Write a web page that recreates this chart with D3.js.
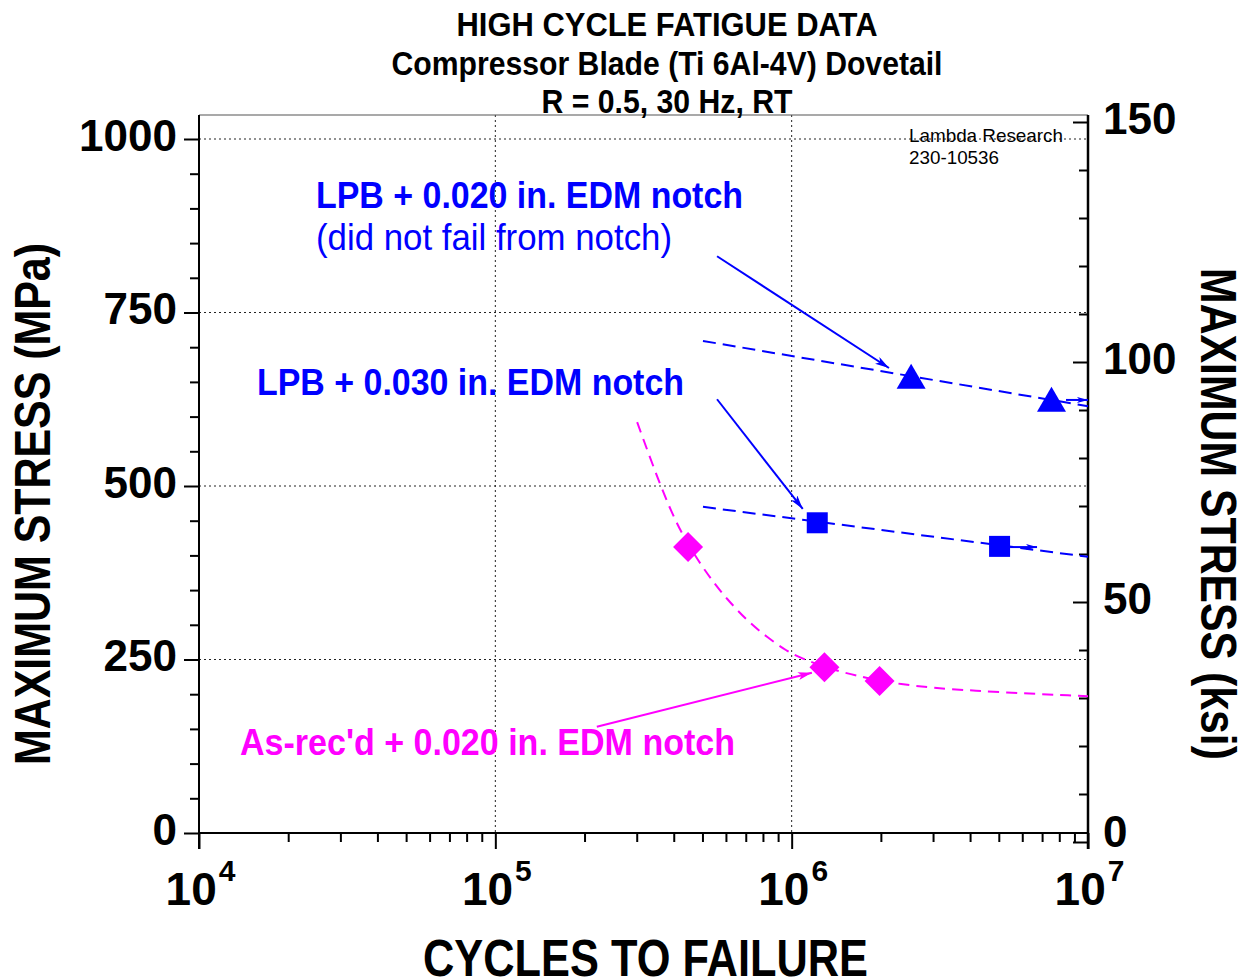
<!DOCTYPE html>
<html><head><meta charset="utf-8">
<script src="https://cdn.jsdelivr.net/npm/d3@7"></script>
<style>body{margin:0;background:#fff}svg{display:block}text{font-family:"Liberation Sans",Arial,sans-serif}</style>
</head><body><svg id="c" width="1247" height="978"></svg>
<script>
// ---- data ----
const decadeTicks=[1e4,1e5,1e6,1e7];
const decadeExp=["4","5","6","7"];
const mpaTicks=[0,250,500,750,1000];
const ksiTicks=[0,50,100,150];
const lpb20Cycles=[2.53e6,7.53e6], lpb20Stress=[658,625];
const lpb30Cycles=[1.22e6,5.03e6], lpb30Stress=[447,413];
const asrecCycles=[4.47e5,1.29e6,1.98e6], asrecStress=[412,239,219];
const lpb20FitCycles=[5.02e5,1e7], lpb20FitStress=[709,615];
const lpb30FitCycles=[5.02e5,1e7], lpb30FitStress=[470,398];
const asrecFitCycles=[3.01e5,3.54e5,4.2e5,5.3e5,6.05e5,7.07e5,8.26e5,9.64e5,1.07e6,1.46e6,2.32e6,3.91e6,1e7];
const asrecFitStress=[592,509,432,367,337,306,282,262,252,231,213,205,197];
// run-out arrows (from cycles, to cycles, stress)
const runoutFrom=[8.43e6,5.46e6], runoutTo=[1e7,6.73e6], runoutStress=[624,412];
// annotation arrows [c0,s0,c1,s1]
const noteArrowBlue1=[5.6e5,831,2.13e6,670];
const noteArrowBlue2=[5.6e5,625,1.09e6,467];
const noteArrowMag=[2.2e5,153,1.17e6,231];

const BLUE="#0000ff", MAG="#ff00ff";
const svg=d3.select("#c");
svg.append("rect").attr("width",1247).attr("height",978).attr("fill","#fff");

const L=199,R=1088,T=115,B=833;
const x=d3.scaleLog().domain([1e4,1e7]).range([L,R]);
const yL=d3.scaleLinear().domain([0,1000]).range([B,139]);
const yR=d3.scaleLinear().domain([0,150]).range([842,122]);

const defs=svg.append("defs");
function mk(id,col,len,wid){
  defs.append("marker").attr("id",id).attr("markerUnits","userSpaceOnUse")
   .attr("markerWidth",len+2).attr("markerHeight",wid+2).attr("refX",len).attr("refY",wid/2)
   .attr("orient","auto").append("path")
   .attr("d",`M0,0L${len},${wid/2}L0,${wid}L${len*0.25},${wid/2}Z`).attr("fill",col);
}
mk("ahB",BLUE,14,8); mk("ahM",MAG,14,8); mk("ahR",BLUE,11,6);

// grid
const grid=svg.append("g").attr("stroke","#222").attr("stroke-width",1).attr("stroke-dasharray","2,3");
grid.selectAll(".h").data(mpaTicks.filter(d=>d>0)).join("line")
  .attr("x1",L).attr("x2",R).attr("y1",d=>yL(d)).attr("y2",d=>yL(d));
grid.selectAll(".v").data([1e5,1e6]).join("line")
  .attr("x1",d=>x(d)).attr("x2",d=>x(d)).attr("y1",T).attr("y2",B);

// frame top
svg.append("line").attr("x1",L).attr("x2",R).attr("y1",T).attr("y2",T).attr("stroke","#555").attr("stroke-width",1.2);

// left axis
const minorMpa=d3.range(0,1001,50).filter(d=>d%250!==0);
const gL=svg.append("g").attr("transform",`translate(${L},0)`);
gL.call(d3.axisLeft(yL).tickValues(minorMpa).tickSize(9).tickFormat("").tickSizeOuter(0));
gL.call(g=>g.select(".domain").remove());
const gL2=svg.append("g").attr("transform",`translate(${L},0)`);
gL2.call(d3.axisLeft(yL).tickValues(mpaTicks).tickSize(15).tickPadding(7).tickSizeOuter(0).tickFormat(d3.format("d")));
gL2.select(".domain").remove();
gL2.selectAll("text").attr("dy","0.25em").attr("font-size",44).attr("font-weight","bold").attr("font-family","Liberation Sans, Arial, sans-serif").attr("fill","#000");
[gL,gL2].forEach(g=>g.selectAll("line").attr("stroke","#000").attr("stroke-width",2));
svg.append("line").attr("x1",L).attr("x2",L).attr("y1",T).attr("y2",B+16).attr("stroke","#000").attr("stroke-width",2);

// bottom axis
const minorX=[];
[1e4,1e5,1e6].forEach(d=>{for(let k=2;k<=9;k++)minorX.push(d*k);});
const gB=svg.append("g").attr("transform",`translate(0,${B})`);
gB.call(d3.axisBottom(x).tickValues(minorX).tickSize(9).tickFormat("").tickSizeOuter(0));
gB.select(".domain").remove();
const gB2=svg.append("g").attr("transform",`translate(0,${B})`);
gB2.call(d3.axisBottom(x).tickValues(decadeTicks).tickSize(16).tickFormat("").tickSizeOuter(0));
gB2.select(".domain").remove();
[gB,gB2].forEach(g=>g.selectAll("line").attr("stroke","#000").attr("stroke-width",2));
gB2.selectAll(".tick").each(function(d,i){
  const t=d3.select(this).append("text").attr("y",72).attr("x",1).attr("text-anchor","middle")
    .attr("fill","#000").attr("font-weight","bold").attr("font-family","Liberation Sans, Arial, sans-serif");
  t.append("tspan").attr("font-size",46).text("10");
  t.append("tspan").attr("font-size",30).attr("dy",-24).attr("dx",2).text(decadeExp[i]);
});
svg.append("line").attr("x1",L).attr("x2",R).attr("y1",B).attr("y2",B).attr("stroke","#000").attr("stroke-width",2);

// right axis
const minorKsi=d3.range(0,151,10).filter(d=>d%50!==0);
const gR=svg.append("g").attr("transform",`translate(${R},0)`);
gR.call(d3.axisRight(yR).tickValues(minorKsi).tickSize(-9).tickFormat("").tickSizeOuter(0));
gR.select(".domain").remove();
const gR2=svg.append("g").attr("transform",`translate(${R},0)`);
gR2.call(d3.axisRight(yR).tickValues(ksiTicks).tickSize(-15).tickPadding(15).tickSizeOuter(0).tickFormat(d3.format("d")));
gR2.select(".domain").remove();
gR2.selectAll("text").attr("dy",d=>d===0?"0.1em":"0.25em").attr("font-size",44).attr("font-weight","bold").attr("font-family","Liberation Sans, Arial, sans-serif").attr("fill","#000");
[gR,gR2].forEach(g=>g.selectAll("line").attr("stroke","#000").attr("stroke-width",2));
svg.append("line").attr("x1",R).attr("x2",R).attr("y1",T).attr("y2",849).attr("stroke","#000").attr("stroke-width",2.5);

// fit lines
const line=d3.line().x(d=>x(d[0])).y(d=>yL(d[1]));
const zip=(a,b)=>a.map((v,i)=>[v,b[i]]);
svg.append("path").datum(zip(lpb20FitCycles,lpb20FitStress)).attr("d",line)
  .attr("fill","none").attr("stroke",BLUE).attr("stroke-width",2).attr("stroke-dasharray","13,7");
svg.append("path").datum(zip(lpb30FitCycles,lpb30FitStress)).attr("d",line)
  .attr("fill","none").attr("stroke",BLUE).attr("stroke-width",2).attr("stroke-dasharray","13,7");
svg.append("path").datum(zip(asrecFitCycles,asrecFitStress)).attr("d",line.curve(d3.curveBasis))
  .attr("fill","none").attr("stroke",MAG).attr("stroke-width",2).attr("stroke-dasharray","11,7");

// annotation arrows
function arrow(a,col,m){
  svg.append("line").attr("x1",x(a[0])).attr("y1",yL(a[1])).attr("x2",x(a[2])).attr("y2",yL(a[3]))
    .attr("stroke",col).attr("stroke-width",2).attr("marker-end",`url(#${m})`);
}
arrow(noteArrowBlue1,BLUE,"ahB");
arrow(noteArrowBlue2,BLUE,"ahB");
arrow(noteArrowMag,MAG,"ahM");
runoutFrom.forEach((c,i)=>{
  svg.append("line").attr("x1",x(c)).attr("y1",yL(runoutStress[i])).attr("x2",x(runoutTo[i])).attr("y2",yL(runoutStress[i]))
    .attr("stroke",BLUE).attr("stroke-width",2).attr("marker-end","url(#ahR)");
});

// markers
svg.append("g").selectAll("path").data(zip(lpb20Cycles,lpb20Stress)).join("path")
  .attr("transform",d=>`translate(${x(d[0])},${yL(d[1])})`)
  .attr("d","M0,-12.5L14.5,12.5L-14.5,12.5Z").attr("fill",BLUE);
svg.append("g").selectAll("rect").data(zip(lpb30Cycles,lpb30Stress)).join("rect")
  .attr("x",d=>x(d[0])-10.5).attr("y",d=>yL(d[1])-10.5).attr("width",21).attr("height",21).attr("fill",BLUE);
svg.append("g").selectAll("path").data(zip(asrecCycles,asrecStress)).join("path")
  .attr("transform",d=>`translate(${x(d[0])},${yL(d[1])})`)
  .attr("d","M0,-15L15,0L0,15L-15,0Z").attr("fill",MAG);

// texts
function txt(s,o){
  const t=svg.append("text").text(s).attr("x",o.x).attr("y",o.y).attr("font-size",o.fs)
    .attr("font-weight",o.fw||"bold").attr("fill",o.c||"#000").attr("text-anchor",o.a||"start");
  if(o.w) t.attr("textLength",o.w).attr("lengthAdjust","spacingAndGlyphs");
  if(o.tr) t.attr("transform",o.tr).attr("x",0).attr("y",0);
  return t;
}
txt("HIGH CYCLE FATIGUE DATA",{x:667,y:36,fs:33,a:"middle",w:421});
txt("Compressor Blade (Ti 6Al-4V) Dovetail",{x:667,y:75,fs:33,a:"middle",w:551});
txt("R = 0.5, 30 Hz, RT",{x:667,y:113,fs:33,a:"middle",w:251});
txt("Lambda Research",{x:909,y:142,fs:19,fw:"normal",w:154});
txt("230-10536",{x:909,y:164,fs:19,fw:"normal",w:90});
txt("LPB + 0.020 in. EDM notch",{x:316,y:208,fs:37,c:BLUE,w:427});
txt("(did not fail from notch)",{x:316,y:250,fs:37,fw:"normal",c:BLUE,w:356});
txt("LPB + 0.030 in. EDM notch",{x:257,y:395,fs:37,c:BLUE,w:427});
txt("As-rec'd + 0.020 in. EDM notch",{x:240,y:755,fs:37,c:MAG,w:495});
txt("MAXIMUM STRESS (MPa)",{fs:50,a:"middle",w:522,tr:"translate(50,504) rotate(-90)"});
txt("MAXIMUM STRESS (ksi)",{fs:50,a:"middle",w:492,tr:"translate(1201,514) rotate(90)"});
txt("CYCLES TO FAILURE",{x:645.5,y:976,fs:52,a:"middle",w:445});
</script></body></html>
